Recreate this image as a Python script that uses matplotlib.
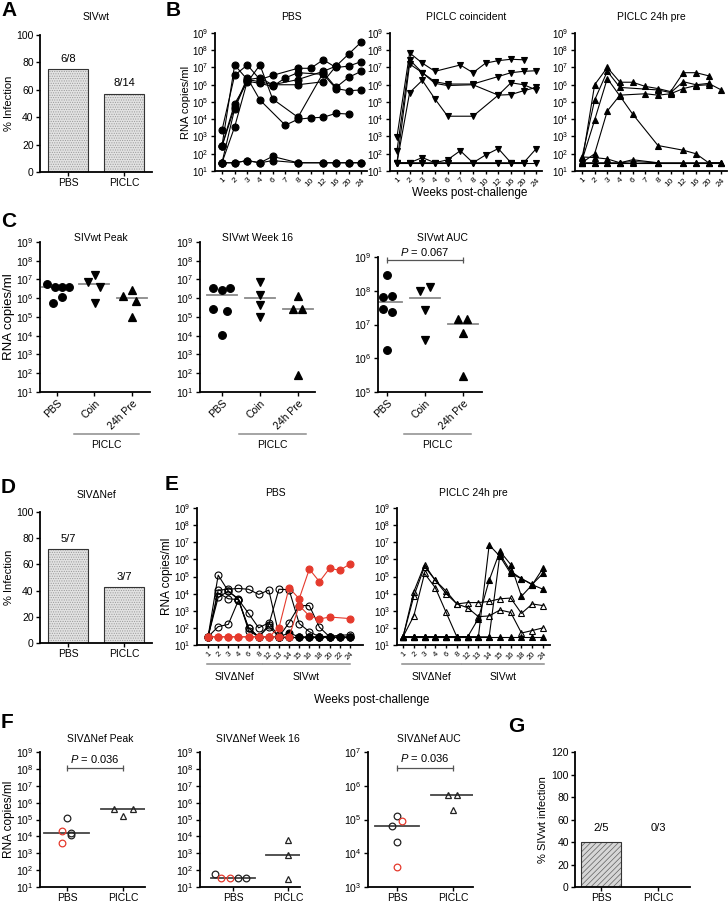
import numpy as np
import matplotlib
matplotlib.use('Agg')
from matplotlib import pyplot as plt
from matplotlib.ticker import LogFormatterSciNotation, NullLocator

plt.rcParams['font.family'] = ['Liberation Sans', 'DejaVu Sans']
plt.rcParams['mathtext.fontset'] = 'custom'
plt.rcParams['mathtext.rm'] = 'Liberation Sans'
plt.rcParams['mathtext.it'] = 'Liberation Sans:italic'
plt.rcParams['hatch.linewidth'] = 0.5

W, H = 728, 905
RED = '#e53a2d'
GREY = '#8c8c8c'

# ---------------- data ----------------
# A / D / G: infected / total per group
bar_groups = ['PBS', 'PICLC']
a_infected, a_total = [6, 8], [8, 14]
d_infected, d_total = [5, 3], [7, 7]
g_infected, g_total = [2, 0], [5, 3]

# B: RNA copies/ml per animal, None = no sample
b_weeks = ['1', '2', '3', '4', '6', '7', '8', '10', '12', '16', '20', '24']
b_pbs = [
    [290, 1.4e7, 2e6, 1.5e6, 1e6, None, 1e6, None, 1.5e6, 1.2e7, 6e7, 3e8],
    [2300, 3.5e6, 1.4e7, 2e6, 3.5e6, None, 9e6, 9e6, 2.8e7, 1e7, 1.2e7, 2.2e7],
    [280, 8e4, 1.4e6, 1.4e7, 1.5e5, None, 1.3e4, None, 5e6, 7e5, 2.7e6, 6e6],
    [270, 5e4, 2.5e6, 1.3e5, None, 4.5e3, 1e4, 1.2e4, 1.3e4, 2.2e4, 2e4, None],
    [30, 3.6e3, 1.6e6, 1.2e6, 8e5, 2.5e6, 5e6, None, 4e6, 6e5, 4.5e5, 5e5],
    [30, 4e4, 2e6, 2.5e6, 1e6, None, 2e6, None, 6e6, 1.2e7, None, None],
    [30, 30, 40, 30, 70, None, 30, None, 30, 30, 30, 30],
    [30, 30, 40, 30, 40, None, 30, None, 30, 30, 30, 30],
]
b_coin = [
    [950, 7e7, 1.8e7, 6e6, None, 1.4e7, 5e6, 1.8e7, 2.5e7, 3e7, 2.8e7, None],
    [150, 2.8e7, 5e6, 1.5e6, 1.1e6, None, 1.1e6, None, 3e6, 5e6, 6e6, 6.5e6],
    [30, 1.6e7, 5e6, 1.2e6, 9e5, None, 1e6, None, 2.5e5, 1.3e6, 1e6, 5e5],
    [30, 3.5e5, 1.8e6, 1.5e5, 1.5e4, None, 1.5e4, None, 2.5e5, 2.7e5, 4.5e5, 7e5],
    [30, 30, 60, 30, 45, 150, 30, 85, 200, 30, 30, None],
    [30, 30, 30, 30, 30, None, 30, None, 30, 30, 30, 200],
    [30, 30, 30, 30, 30, None, 30, None, 30, 30, 30, 30],
]
b_pre = [
    [30, 1e6, 1e7, 1.4e6, 1.4e6, 8e5, 6e5, 4e5, 5e6, 5e6, 3.3e6, None],
    [60, 1.3e5, 6e6, 7e5, None, None, 5e5, 3.5e5, 1.5e6, 1e6, 1.2e6, 5e5],
    [40, 9e3, 2.3e6, 2.2e5, 2e4, None, 300, None, 160, 100, 30, 30],
    [30, 100, 3e4, 2.5e5, None, 3e5, 2.5e5, 3e5, 6e5, 9e5, 1e6, None],
    [65, 60, 50, 30, 45, None, 30, None, None, None, None, None],
    [30, 30, 30, 30, 35, None, 30, None, 30, 30, 30, 30],
    [30, 30, 30, 30, 30, None, 30, None, 30, 30, 30, 30],
]

# C: SIVwt peak / week 16 / AUC
c_groups = ['PBS', 'Coin', '24h Pre']
c_peak_pbs = [5.9e6, 3.9e6, 3.9e6, 3.9e6, 1.1e6, 5.4e5]
c_peak_coin = [1.8e7, 7.8e6, 3.9e6, 5.9e5]
c_peak_pre = [2.8e6, 1.3e6, 7.5e5, 9.6e4]
c_wk16_pbs = [3.5e6, 2.8e6, 3.5e6, 2.7e5, 2.2e5, 1.1e4]
c_wk16_coin = [7.8e6, 1.5e6, 4.4e5, 1e5]
c_wk16_pre = [1.3e6, 2.7e5, 2.7e5, 78]
c_auc_pbs = [3e8, 6.5e7, 6.8e7, 2.8e7, 2.4e7, 1.8e6]
c_auc_coin = [1e8, 1.3e8, 2.6e7, 3.5e6]
c_auc_pre = [1.5e7, 1.5e7, 5.6e6, 3e5]
# horizontal spread of overlapping points
c_peak_jit = [[-0.27, -0.06, 0.13, 0.31, 0.13, -0.11], [0.02, -0.16, 0.15, 0.02], [0.0, -0.24, 0.12, 0.0]]
c_wk16_jit = [[-0.24, 0.0, 0.22, -0.25, 0.13, 0.0], [0, 0, 0, 0], [0.0, -0.13, 0.1, 0.0]]
c_auc_jit = [[0.0, -0.1, 0.13, -0.1, 0.13, 0.0], [-0.13, 0.13, 0.0, 0.0], [-0.13, 0.1, 0.0, 0.0]]

# E: SIVdNef then SIVwt challenge
e_pbs_weeks = ['1', '2', '3', '4', '6', '8', '12', '13', '14', '15', '16', '18', '20', '22', '24']
e_pbs_open = [
    [30, 1.6e4, 1.8e4, 2e4, 1.8e4, 9e3, 1.6e4, 40, None, None, None, None, None, None, None],
    [30, 1.2e5, 1.4e4, 4.5e3, 100, 30, 150, 1.8e4, 1.7e4, 180, 60, 30, None, None, 40],
    [30, 1.1e4, 5e3, 4.5e3, 700, 100, 200, 30, 200, 2e3, 2e3, 110, 30, None, None],
    [30, 6e3, 1.4e4, 5e3, 70, 30, 30, 30, None, None, None, None, None, None, None],
    [30, 118, 160, 4e3, 100, 30, 120, 30, None, None, None, None, None, None, None],
]
e_pbs_red = [
    [30, 30, 30, 30, 30, 30, 30, 100, 2.2e4, 5e3, 2.7e5, 5e4, 3e5, 2.3e5, 5.3e5],
    [30, 30, 30, 30, 30, 30, 30, 30, 30, 2e3, 500, 330, 430, None, 350],
]
e_pbs_black = [
    [None] * 7 + [30, 50, 30, 30, 30, 30, 30, 30],
    [None] * 7 + [30, 30, 30, 30, 30, 30, 30, 30],
    [None] * 7 + [30, 30, 30, 30, 30, 30, 30, 30],
]
e_pre_weeks = ['1', '2', '3', '4', '6', '8', '12', '13', '14', '15', '16', '18', '20', '24']
e_pre_open = [
    [30, 1.3e4, 4.8e5, 6e4, 1.4e4, 2.5e3, 3e3, 3e3, 3.5e3, 5e3, 5.5e3, 700, 2.5e3, 2e3],
    [30, 7e3, 3.8e5, 6e4, 1e4, 2.5e3, 1.5e3, 450, 500, 1.1e3, 800, 50, 70, 100],
    [30, 500, 1.5e5, 2.2e4, 800, 30, 30, None, None, None, None, None, None, None],
]
e_pre_filled = [
    [30, 30, 30, 30, 30, 30, 30, 30, 7e6, 1.5e6, 1.5e5, 7.5e4, 3.3e4, 1.8e4],
    [30, 30, 30, 30, 30, 30, 30, 350, 6e4, 3e6, 5e5, 7e3, 3.3e4, 3e5],
    [30, 30, 30, 30, 30, 30, 30, 30, 30, 2e6, 2e5, 7.5e4, 3.5e4, 1.5e5],
    [30, 30, 30, 30, 30, 30, 30, 30, 30, 30, 30, 30, 30, 30],
]

# F: SIVdNef peak / week 16 / AUC (PBS red = later SIVwt infected)
f_groups = ['PBS', 'PICLC']
f_peak_pbs = [1.15e5, 1.5e4, 1.15e4, 2.1e4, 4e3]
f_peak_piclc = [4.4e5, 4.4e5, 1.6e5]
f_wk16_pbs = [60, 34, 34, 36, 36]
f_wk16_piclc = [5.9e3, 810, 31]
f_auc_pbs = [1.3e5, 6.6e4, 2.2e4, 9e4, 4e3]
f_auc_piclc = [5.4e5, 5.4e5, 1.9e5]
f_pbs_red = [False, False, False, True, True]
f_wk16_red = [False, True, True, False, False]
f_peak_jit = [[0.0, 0.08, 0.08, -0.08, -0.08], [-0.16, 0.17, 0.0]]
f_wk16_jit = [[-0.33, -0.21, -0.06, 0.09, 0.24], [0.0, 0.0, 0.0]]
f_auc_jit = [[0.0, -0.09, 0.0, 0.08, 0.0], [-0.09, 0.07, 0.0]]

fig = plt.figure(figsize=(W / 100, H / 100), dpi=100)


def add_ax(x0, x1, y0, y1):
    return fig.add_axes([x0 / W, 1 - y1 / H, (x1 - x0) / W, (y1 - y0) / H])


def base_style(ax, fs=7):
    ax.spines['top'].set_visible(False)
    ax.spines['right'].set_visible(False)
    ax.spines['left'].set_linewidth(1.3)
    ax.spines['bottom'].set_linewidth(1.3)
    ax.tick_params(axis='both', width=1.0, length=3, labelsize=fs, pad=1.5)


def log_y(ax, lo, hi):
    ax.set_yscale('log')
    ax.set_ylim(10.0 ** lo, 10.0 ** hi)
    # only the decades inside the axis
    ax.set_yticks([10.0 ** k for k in range(lo, hi + 1)])
    ax.yaxis.set_major_formatter(LogFormatterSciNotation())
    ax.yaxis.set_minor_locator(NullLocator())


def title(ax, text, y_px, fs=7.5, dx=0):
    pos = ax.get_position()
    fig.text(pos.x0 + pos.width / 2 + dx / W, 1 - y_px / H, text, ha='center', va='center', fontsize=fs)


def letter(s, x, y):
    fig.text(x / W, 1 - y / H, s, ha='center', va='center', fontsize=15, fontweight='bold')


def bar_panel(ax, infected, total, ymax, step, ylabel, hatch, face, hatch_col, same_level=False):
    pct = [100.0 * i / t for i, t in zip(infected, total)]
    x = np.arange(len(pct))
    ax.bar(x, pct, width=0.7, color=face, edgecolor=hatch_col, linewidth=0, hatch=hatch)
    ax.bar(x, pct, width=0.7, fill=False, edgecolor='#333333', linewidth=0.8)
    for xi, p, i, t in zip(x, pct, infected, total):
        y = (max(pct) + 8) if same_level else p + 4
        ax.text(xi, y, f'{i}/{t}', ha='center', va='bottom', fontsize=8)
    ax.set_xlim(-0.5, 1.5)
    ax.set_ylim(0, ymax)
    ax.set_yticks(np.arange(0, ymax + 1, step))
    ax.set_xticks(x)
    ax.set_xticklabels(bar_groups)
    ax.set_ylabel(ylabel, fontsize=8, labelpad=2)
    base_style(ax, 7.5)


def traj(ax, series, marker, color='k', mfc='k', ms=5, z=3):
    for s in series:
        idx = [i for i, v in enumerate(s) if v is not None]
        ax.plot(idx, [s[i] for i in idx], color=color, lw=0.8, marker=marker, ms=ms,
                mfc=mfc, mec=color, mew=0.8, clip_on=False, zorder=z)


def time_axes(ax, labels, xlim, fs=6):
    log_y(ax, 1, 9)
    ax.set_xlim(*xlim)
    ax.set_xticks(range(len(labels)))
    ax.set_xticklabels(labels, rotation=45, ha='right', rotation_mode='anchor')
    base_style(ax, 7)
    ax.tick_params(axis='x', labelsize=fs, length=2.5)


def dots(ax, groups, jits, markers, hw, line_col, colors=None, filled=True, ms=5):
    for gi, (vals, jit) in enumerate(zip(groups, jits)):
        for k, (v, j) in enumerate(zip(vals, jit)):
            c = colors[gi][k] if colors else 'k'
            ax.plot(gi + j, v, ls='none', marker=markers[gi], ms=ms, mec=c,
                    mfc=c if filled else 'none', mew=0.9, clip_on=False, zorder=3)
        m = np.median(vals)
        ax.plot([gi - hw, gi + hw], [m, m], color=line_col, lw=1.3, zorder=2)


def pbar(ax, x0, x1, y, ytxt, label):
    ax.plot([x0, x1], [y, y], color='#555555', lw=0.9, clip_on=False)
    ax.plot([x0, x1], [y, y], ls='none', marker='|', ms=4, mew=0.9, color='#555555', clip_on=False)
    ax.text((x0 + x1) / 2, ytxt, label, ha='center', va='bottom', fontsize=8)


def under(ax, x0, x1, yfrac, tfrac, label, fs=7.5):
    tr = ax.get_xaxis_transform()
    ax.plot([x0, x1], [yfrac, yfrac], transform=tr, color=GREY, lw=1.1, clip_on=False)
    ax.text((x0 + x1) / 2, tfrac, label, transform=tr, ha='center', va='center', fontsize=fs)


# ---------------- A ----------------
ax = add_ax(40, 152, 35, 172)
bar_panel(ax, a_infected, a_total, 100, 20, '% Infection', '.......', '#e2e2e2', '#9a9a9a')
title(ax, 'SIVwt', 17)
letter('A', 9, 10)

# ---------------- B ----------------
b_boxes = [(215, 367), (390, 542), (575, 727)]
b_sets = [(b_pbs, 'o', 'PBS'), (b_coin, 'v', 'PICLC coincident'), (b_pre, '^', 'PICLC 24h pre')]
for (x0, x1), (series, mk, ttl) in zip(b_boxes, b_sets):
    ax = add_ax(x0, x1, 33, 171)
    traj(ax, series, mk)
    time_axes(ax, b_weeks, (-0.55, 11.45))
    title(ax, ttl, 17)
    if mk == 'o':
        ax.set_ylabel('RNA copies/ml', fontsize=8, labelpad=1)
fig.text(470 / W, 1 - 193 / H, 'Weeks post-challenge', ha='center', va='center', fontsize=8.5)
letter('B', 173, 11)

# ---------------- C ----------------
c_specs = [
    ((40, 150, 242, 392), (1, 9), (-0.45, 2.48), [c_peak_pbs, c_peak_coin, c_peak_pre], c_peak_jit, 'SIVwt Peak', 6),
    ((200, 315, 242, 392), (1, 9), (-0.58, 2.45), [c_wk16_pbs, c_wk16_coin, c_wk16_pre], c_wk16_jit, 'SIVwt Week 16', 0),
    ((378, 482, 257, 392), (5, 9), (-0.24, 2.5), [c_auc_pbs, c_auc_coin, c_auc_pre], c_auc_jit, 'SIVwt AUC', 12),
]
for box, ylim, xlim, vals, jit, ttl, dx in c_specs:
    ax = add_ax(*box)
    dots(ax, vals, jit, ['o', 'v', '^'], 0.4, '#8a8a8a', ms=5.5)
    log_y(ax, *ylim)
    ax.set_xlim(*xlim)
    ax.set_xticks(range(3))
    ax.set_xticklabels(c_groups, rotation=45, ha='right', rotation_mode='anchor')
    base_style(ax, 7.5)
    h = box[3] - box[2]
    under(ax, 0.45, 2.2, -42 / h, -53 / h, 'PICLC')
    title(ax, ttl, 238, dx=dx)
    if ttl.endswith('Peak'):
        ax.set_ylabel('RNA copies/ml', fontsize=9.5, labelpad=1)
    if ttl.endswith('AUC'):
        pbar(ax, 0, 2, 8.3e8, 9.2e8, '$P$ = 0.067')
letter('C', 9, 221)

# ---------------- D ----------------
ax = add_ax(40, 152, 512, 643)
bar_panel(ax, d_infected, d_total, 100, 20, '% Infection', '.......', '#e2e2e2', '#9a9a9a')
title(ax, 'SIV\u0394Nef', 495)
letter('D', 8, 487)

# ---------------- E ----------------
ax = add_ax(197, 363, 508, 645)
traj(ax, e_pbs_open, 'o', mfc='none', ms=5)
traj(ax, e_pbs_black, 'o', ms=5, z=4)
traj(ax, e_pbs_red, 'o', color=RED, mfc=RED, ms=5, z=5)
time_axes(ax, e_pbs_weeks, (-1.09, 15.3), fs=5.5)
ax.set_ylabel('RNA copies/ml', fontsize=8.5, labelpad=1)
title(ax, 'PBS', 493, dx=-5)
under(ax, -0.1, 5.35, -19 / 137, -32 / 137, 'SIV\u0394Nef')
under(ax, 5.45, 14.0, -19 / 137, -32 / 137, 'SIVwt')

ax = add_ax(397, 550, 508, 645)
traj(ax, e_pre_open, '^', mfc='none', ms=5)
traj(ax, e_pre_filled, '^', ms=5, z=4)
time_axes(ax, e_pre_weeks, (-0.56, 13.65), fs=5.5)
title(ax, 'PICLC 24h pre', 493)
under(ax, -0.1, 5.4, -19 / 137, -32 / 137, 'SIV\u0394Nef')
under(ax, 5.5, 13.1, -19 / 137, -32 / 137, 'SIVwt')
fig.text(372 / W, 1 - 700 / H, 'Weeks post-challenge', ha='center', va='center', fontsize=8.5)
letter('E', 172, 485)

# ---------------- F ----------------
red_cols = [[RED if r else '#222222' for r in f_pbs_red], ['#222222'] * 3]
red_wk16 = [[RED if r else '#222222' for r in f_wk16_red], ['#222222'] * 3]
f_specs = [
    ((40, 145), (1, 9), (-0.48, 1.39), [f_peak_pbs, f_peak_piclc], f_peak_jit, red_cols, 'SIV\u0394Nef Peak'),
    ((200, 300), (1, 9), (-0.6, 1.22), [f_wk16_pbs, f_wk16_piclc], f_wk16_jit, red_wk16, 'SIV\u0394Nef Week 16'),
    ((368, 473), (3, 7), (-0.52, 1.36), [f_auc_pbs, f_auc_piclc], f_auc_jit, red_cols, 'SIV\u0394Nef AUC'),
]
for (x0, x1), ylim, xlim, vals, jit, cols, ttl in f_specs:
    ax = add_ax(x0, x1, 752, 887)
    dots(ax, vals, jit, ['o', '^'], 0.4, '#444444', colors=cols, filled=False, ms=4.8)
    log_y(ax, *ylim)
    ax.set_xlim(*xlim)
    ax.set_xticks(range(2))
    ax.set_xticklabels(f_groups)
    base_style(ax, 7.5)
    ax.tick_params(axis='x', pad=1)
    title(ax, ttl, 739, dx=8)
    if ttl.endswith('Peak'):
        ax.set_ylabel('RNA copies/ml', fontsize=8.5, labelpad=1)
        pbar(ax, 0, 1, 1.2e8, 1.8e8, '$P$ = 0.036')
    if ttl.endswith('AUC'):
        pbar(ax, 0, 1, 3.4e6, 4.3e6, '$P$ = 0.036')
letter('F', 7, 722)

# ---------------- G ----------------
ax = add_ax(575, 690, 752, 887)
bar_panel(ax, g_infected, g_total, 120, 20, '% SIVwt infection', '//////', '#d6d6d6', '#606060', same_level=True)
ax.set_xlim(-0.46, 1.56)
ax.tick_params(axis='x', pad=1)
letter('G', 516, 726)

fig.savefig('out.png', dpi=100)
